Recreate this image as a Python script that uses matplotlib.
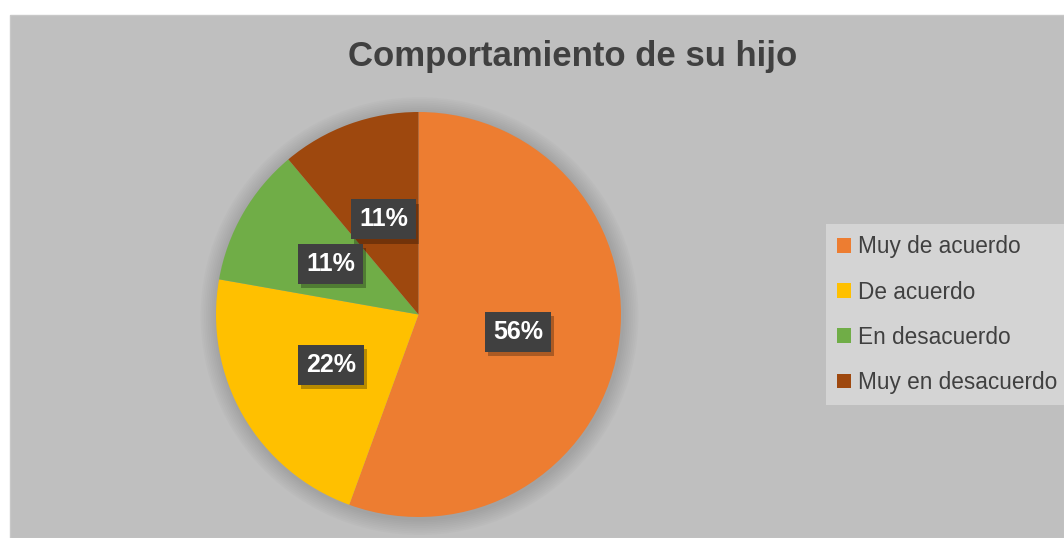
import matplotlib.pyplot as plt
import matplotlib.patheffects as pe
from matplotlib.patches import Rectangle, Circle

# data
categories = ['Muy de acuerdo', 'De acuerdo', 'En desacuerdo', 'Muy en desacuerdo']
counts = [5, 2, 1, 1]
colors = ['#ED7D31', '#FFC000', '#70AD47', '#9E480E']
title = 'Comportamiento de su hijo'

W, H = 1064, 538


def main():
    plt.rcParams['font.family'] = ['Liberation Sans', 'DejaVu Sans']

    fig = plt.figure(figsize=(W / 100, H / 100), dpi=100, facecolor='white')

    # gray chart area
    fig.patches.append(Rectangle((10 / W, 0), 1 - 10 / W, (H - 15) / H,
                                 transform=fig.transFigure, facecolor='#bfbfbf',
                                 edgecolor='#c8c8c8', lw=1, zorder=-5))

    # pie axes: center (418.5, 314.5) px, radius 202.5 px
    cx, cy, r = 418.5, 314.5, 202.5
    ax = fig.add_axes([(cx - r) / W, (H - cy - r) / H, 2 * r / W, 2 * r / H])
    ax.set_axis_off()
    ax.set_zorder(1)

    # soft shadow around the pie
    for i in range(9):
        ax.add_patch(Circle((0.005, -0.008), 1.0 + 0.009 * (i + 1), facecolor='#6f6f6f',
                            edgecolor='none', alpha=0.04, zorder=0, clip_on=False))

    wedges, texts, autotexts = ax.pie(
        counts, colors=colors, startangle=90, counterclock=False,
        autopct='%1.0f%%', pctdistance=0.5, radius=1.0,
        wedgeprops=dict(linewidth=0, edgecolor='none', clip_on=False),
        textprops=dict(color='white', fontsize=18, fontweight='bold'))
    ax.set_xlim(-1, 1)
    ax.set_ylim(-1, 1)
    ax.set_aspect('auto')

    for t in autotexts:
        t.set_zorder(5)
        t.set_bbox(dict(boxstyle='square,pad=0.32', facecolor='#404040',
                        edgecolor='none'))
        t.get_bbox_patch().set_path_effects([
            pe.withSimplePatchShadow(offset=(2, -3), shadow_rgbFace='black', alpha=0.28),
            pe.Normal()])

    fig.text(573 / W, (H - 66) / H, title, ha='center', va='baseline',
             fontsize=25, fontweight='bold', color='#404040')

    leg = fig.legend(wedges, categories, loc='upper left',
                     bbox_to_anchor=(826 / W, (H - 224) / H),
                     bbox_transform=fig.transFigure,
                     fontsize=16.3, frameon=True, fancybox=False,
                     facecolor='#d4d4d4', edgecolor='none', framealpha=1,
                     handlelength=0.62, handleheight=0.62, handletextpad=0.3,
                     labelspacing=0.98, borderpad=0.5, borderaxespad=0)
    for t in leg.get_texts():
        t.set_color('#404040')

    fig.savefig('out.png', dpi=100, facecolor='white')


if __name__ == '__main__':
    main()
